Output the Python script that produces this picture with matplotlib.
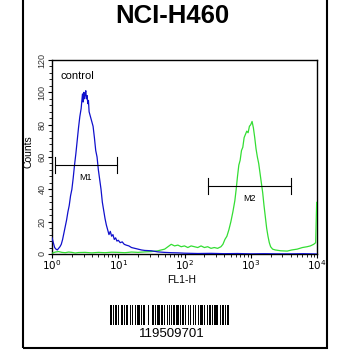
import matplotlib
matplotlib.use("Agg")
import matplotlib.pyplot as plt
import numpy as np
from matplotlib.patches import Rectangle
from matplotlib.ticker import LogLocator, MultipleLocator, NullFormatter

plt.rcParams['font.family'] = ['Liberation Sans', 'DejaVu Sans']

title = "NCI-H460"
xlabel = "FL1-H"
ylabel = "Counts"
barcode_text = "119509701"

# control (blue) histogram: log10(FL1-H) positions and counts
blue_logx = [0.00, 0.02, 0.04, 0.06, 0.08, 0.10, 0.12, 0.14, 0.16, 0.18, 0.20, 0.22, 0.24, 0.26,
             0.28, 0.30, 0.32, 0.34, 0.36, 0.38, 0.40, 0.42, 0.44, 0.46, 0.47, 0.48, 0.49, 0.50,
             0.51, 0.52, 0.53, 0.54, 0.55, 0.56, 0.58, 0.60, 0.62, 0.64, 0.66, 0.68, 0.70, 0.72,
             0.74, 0.76, 0.78, 0.80, 0.82, 0.84, 0.86, 0.88, 0.90, 0.92, 0.94, 0.96, 0.98, 1.00,
             1.03, 1.06, 1.09, 1.12, 1.16, 1.20, 1.25, 1.30, 1.35, 1.40, 1.50, 1.60, 1.70, 1.80,
             1.90, 2.00, 2.20, 2.40, 2.60, 2.80, 3.00, 3.20, 3.40, 3.60, 3.80, 4.00]
blue_counts = [10, 7, 4, 3, 2.5, 3.5, 4.5, 6, 9, 13, 17, 21, 26, 30,
               36, 40, 47, 55, 62, 70, 78, 85, 90, 99, 94, 100, 96, 99,
               101, 96, 98, 93, 95, 88, 85, 82, 79, 72, 64, 60, 52, 46,
               40, 32, 27, 22, 18, 15, 12, 14, 11, 12, 9, 10, 8, 8.5,
               7, 7.5, 6, 5.5, 5, 4, 3.5, 3, 2.5, 2.2, 2, 1.3, 1, 0.8,
               0.7, 0.5, 0.3, 0.4, 0.2, 0.3, 0.1, 0.2, 0.1, 0.1, 0.2, 0]

# sample (green) histogram
green_logx = [0.00, 0.05, 0.10, 0.15, 0.20, 0.25, 0.30, 0.35, 0.40, 0.50, 0.60, 0.70, 0.80, 0.90,
              1.00, 1.10, 1.20, 1.30, 1.40, 1.50, 1.60, 1.70, 1.75, 1.80, 1.85, 1.90, 1.95, 2.00,
              2.05, 2.10, 2.15, 2.20, 2.25, 2.30, 2.35, 2.40, 2.45, 2.50, 2.55, 2.58, 2.61, 2.64,
              2.67, 2.70, 2.73, 2.76, 2.78, 2.80, 2.82, 2.84, 2.86, 2.88, 2.90, 2.92, 2.94, 2.96,
              2.98, 3.00, 3.02, 3.04, 3.06, 3.08, 3.10, 3.12, 3.14, 3.16, 3.18, 3.20, 3.22, 3.24,
              3.26, 3.28, 3.30, 3.33, 3.37, 3.45, 3.55, 3.62, 3.70, 3.78, 3.85, 3.90, 3.95, 3.98,
              3.995, 4.00]
green_counts = [0.5, 1.2, 1.5, 1, 0.8, 1.2, 1, 0.6, 0.9, 1, 0.7, 1, 0.8, 1.1,
                1, 0.8, 1.2, 1.0, 1.3, 1.5, 2, 3, 4.5, 6, 5, 5.5, 4.5, 5,
                4, 5, 4.5, 4, 5, 4, 4.5, 3.5, 4, 3.5, 4.5, 6, 9, 11,
                15, 20, 26, 33, 40, 48, 55, 58, 64, 66, 72, 74, 76, 75,
                79, 80, 82, 78, 72, 65, 60, 56, 50, 44, 38, 30, 23, 16,
                11, 7, 4.5, 3, 2.5, 2, 1.8, 2.5, 3, 4, 4.5, 5, 6, 7,
                32, 32]

# gates
m1_range = [1.1, 9.5]
m1_level = 55
m2_range = [226, 4070]
m2_level = 42

yticks = [0, 20, 40, 60, 80, 100, 120]
xticks = [1, 10, 100, 1000, 10000]
xtick_labels = ["$10^{0}$", "$10^{1}$", "$10^{2}$", "$10^{3}$", "$10^{4}$"]

# barcode pattern: alternating bar / space widths (pixels)
barcode_widths = [2, 1, 1, 1, 2, 1, 1, 2, 3, 1, 1, 1, 2, 2, 1, 1, 1, 2, 1, 1, 3, 1, 1, 1,
                  2, 1, 1, 2, 1, 3, 2, 1, 1, 1, 3, 1, 2, 1, 1, 2, 1, 1, 1, 2, 1, 1, 2, 1,
                  3, 1, 1, 1, 2, 1, 1, 2, 1, 1, 1, 2, 2, 1, 1, 2, 1, 1, 3, 1, 1, 2, 1, 1,
                  2, 1, 1, 1, 3, 1, 1, 2, 1, 1, 2, 1, 1, 1, 2]

fig = plt.figure(figsize=(3.5, 3.5), dpi=100)
W = H = 350.0

# outer frame
fig.patches.append(Rectangle((23 / W, 2 / H), 304 / W, 350 / H, transform=fig.transFigure,
                             fill=False, edgecolor='black', linewidth=1.5))

fig.text(172.5 / W, 1 - 16 / H, title, ha='center', va='center', fontsize=18.5, fontweight='bold')

ax = fig.add_axes([52 / W, 1 - 254 / H, 265 / W, 194 / H])
ax.set_xscale('log')
ax.set_xlim(1, 10000)
ax.set_ylim(0, 120)

bx = [10 ** v for v in blue_logx]
gx = [10 ** v for v in green_logx]
ax.plot(gx, green_counts, color='#33dd33', linewidth=0.9, zorder=3)
ax.plot(bx, blue_counts, color='#1010cc', linewidth=0.9, zorder=4)

# gates
for rng, lvl, lab in [(m1_range, m1_level, "M1"), (m2_range, m2_level, "M2")]:
    ax.plot(rng, [lvl, lvl], color='black', linewidth=0.8, zorder=5)
    for xe in rng:
        ax.plot([xe, xe], [lvl - 5, lvl + 5], color='black', linewidth=0.8, zorder=5)
    xm = np.sqrt(rng[0] * rng[1])
    ax.text(xm, lvl - 7.5, lab, ha='center', va='center', fontsize=6.5)

ax.text(1.35, 110, "control", ha='left', va='center', fontsize=8)

ax.set_yticks(yticks)
ax.set_yticklabels([str(v) for v in yticks], rotation=90, va='center', fontsize=6.5, color='#333333')
ax.yaxis.set_minor_locator(MultipleLocator(4))
ax.set_xticks(xticks)
ax.set_xticklabels(xtick_labels, fontsize=7.5)
ax.xaxis.set_minor_locator(LogLocator(base=10, subs=np.arange(2, 10)))
ax.xaxis.set_minor_formatter(NullFormatter())
ax.tick_params(axis='x', which='major', direction='out', length=3, width=0.8, pad=0)
ax.tick_params(axis='y', which='major', direction='out', length=3, width=0.8, pad=1)
ax.tick_params(axis='both', which='minor', direction='out', length=2, width=0.6)
ax.tick_params(top=False, right=False)
for s in ax.spines.values():
    s.set_linewidth(1.0)

fig.text(182 / W, 1 - 280 / H, xlabel, ha='center', va='center', fontsize=7.5)
fig.text(29 / W, 1 - 152 / H, ylabel, ha='center', va='center', fontsize=7.5, rotation=90)

# barcode
bax = fig.add_axes([110 / W, 1 - 325 / H, 119 / W, 20 / H])
bax.axis('off')
total = sum(barcode_widths)
bax.set_xlim(0, total)
bax.set_ylim(0, 1)
pos = 0
for i, w in enumerate(barcode_widths):
    if i % 2 == 0:
        bax.add_patch(Rectangle((pos, 0), w, 1, color='black', linewidth=0))
    pos += w

fig.text(172 / W, 1 - 334 / H, barcode_text, ha='center', va='center', fontsize=9.5)

fig.savefig("out.png", dpi=100)
